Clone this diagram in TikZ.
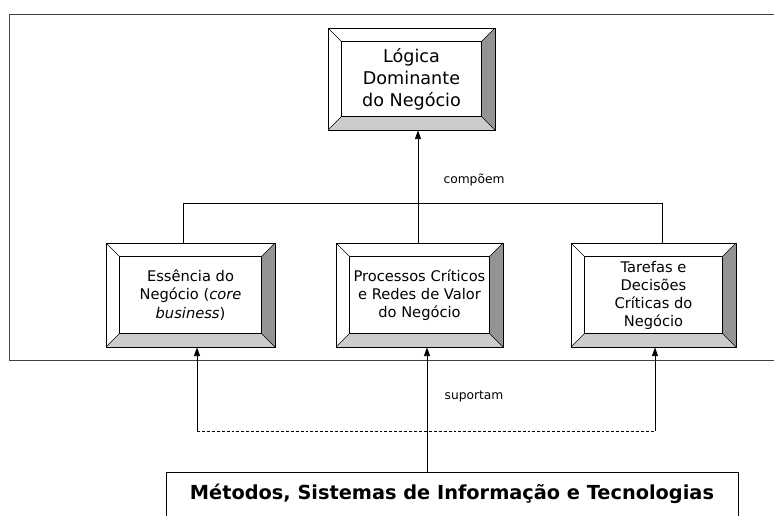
\documentclass[tikz,border=0pt]{standalone}
\usepackage{fontspec}
\setmainfont{DejaVu Sans}
\usetikzlibrary{arrows.meta}
\tikzset{
  bevelbox/.style={draw, line width=0.6pt, inner sep=0pt, align=center,
    font=\fontsize{11}{13.75}\selectfont,
    path picture={
      \def\bv{10pt}
      \path (path picture bounding box.south west) coordinate (@sw)
            (path picture bounding box.north east) coordinate (@ne)
            (path picture bounding box.north west) coordinate (@nw)
            (path picture bounding box.south east) coordinate (@se);
      \fill[black!42] (@ne) -- (@se) -- ([shift={(-\bv,\bv)}]@se) -- ([shift={(-\bv,-\bv)}]@ne) -- cycle;
      \fill[black!20] (@sw) -- (@se) -- ([shift={(-\bv,\bv)}]@se) -- ([shift={(\bv,\bv)}]@sw) -- cycle;
      \draw[line width=0.45pt] (@nw) -- ([shift={(\bv,-\bv)}]@nw)
        (@ne) -- ([shift={(-\bv,-\bv)}]@ne)
        (@sw) -- ([shift={(\bv,\bv)}]@sw)
        (@se) -- ([shift={(-\bv,\bv)}]@se);
      \draw[fill=white, line width=0.6pt] ([shift={(\bv,\bv)}]@sw) rectangle ([shift={(-\bv,-\bv)}]@ne);
    }},
  conn/.style={line width=0.6pt},
  arr/.style={conn, -{Triangle[length=6.5pt,width=4.5pt]}},
  lbl/.style={font=\fontsize{9.2}{11}\selectfont, inner sep=1pt},
  methbox/.style={draw, line width=0.6pt, anchor=north, minimum width=429pt,
    inner xsep=0pt, inner ysep=0pt, text height=20pt, text depth=40pt,
    font=\bfseries\fontsize{14.5}{17}\selectfont}
}
\begin{document}
\begin{tikzpicture}[x=0.75pt, y=-0.75pt]
\useasboundingbox (0,0) rectangle (774,515);
% outer frame
\draw[black!75, line width=0.75pt] (9,14) rectangle (800,360);

\node[bevelbox, minimum width=125.25pt, minimum height=76.5pt,
      font=\fontsize{13.2}{16.5}\selectfont] (log) at (411.5,79)
      {Lógica\\Dominante\\do Negócio};
\node[bevelbox, minimum width=126.75pt, minimum height=78pt] (ess) at (190.5,295)
      {Essência do\\Negócio (\textit{core}\\\textit{business})};
\node[bevelbox, minimum width=125.25pt, minimum height=78pt] (proc) at (419.5,295)
      {Processos Críticos\\e Redes de Valor\\do Negócio};
\node[bevelbox, minimum width=123.75pt, minimum height=78pt,
      font=\fontsize{11}{13.5}\selectfont] (tar) at (653.5,295)
      {Tarefas e\\Decisões\\Críticas do\\Negócio};

\node[methbox] (meth) at (452,472) {Métodos, Sistemas de Informação e Tecnologias};

% upper connectors
\coordinate (jl) at (183,203);
\coordinate (jm) at (418,203);
\coordinate (jr) at (662,203);
\draw[conn] (jl) -- (jr);
\draw[conn] (jl) -- (jl |- ess.north);
\draw[conn] (jm) -- (jm |- proc.north);
\draw[conn] (jr) -- (jr |- tar.north);
\draw[arr] (jm) -- (jm |- log.south);
\node[lbl] (comp) at (474,180) {compõem};

% lower connectors
\coordinate (dl) at (197,431);
\coordinate (dr) at (655,431);
\coordinate (mx) at (427,431);
\draw[conn, dash pattern=on 2.2pt off 1.5pt] (dl) -- (dr);
\draw[arr] (dl) -- (dl |- ess.south);
\draw[arr] (dr) -- (dr |- tar.south);
\draw[arr] (meth.north -| mx) -- (mx |- proc.south);
\node[lbl] (sup) at (474,396) {suportam};
\end{tikzpicture}
\end{document}
